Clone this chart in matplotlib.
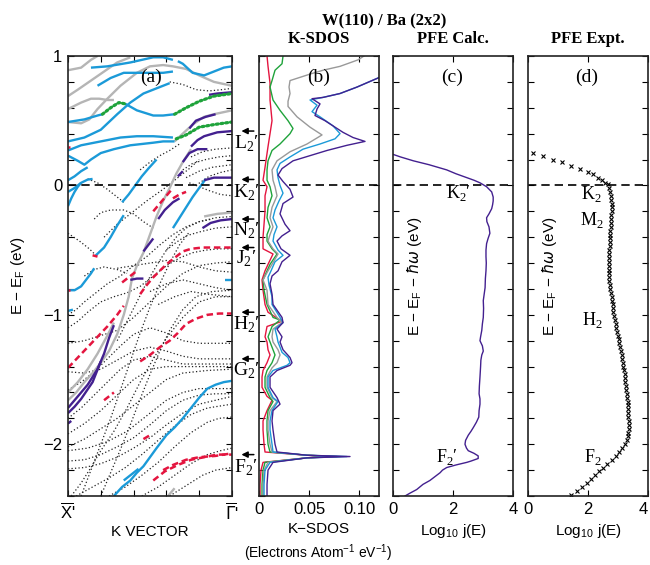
import matplotlib.pyplot as plt
from matplotlib.ticker import MultipleLocator

plt.rcParams['font.family'] = ['Liberation Sans', 'DejaVu Sans']
plt.rcParams['mathtext.fontset'] = 'dejavusans'
SERIF = ['Liberation Serif', 'DejaVu Serif']

BLUE = '#1b9ad8'
PURPLE = '#43208f'
GRAY = '#b5b5b5'
RED = '#e4153f'
GREEN = '#1fa33b'
DOT = '#222222'

# ---- (a) bands along X' -> Gamma' (k = 0 at X', 1 at Gamma'), E in eV ----
blue_bands = [
    [(0.14, 0.91), (0.24, 0.92), (0.38, 0.95), (0.52, 0.99), (0.58, 0.99), (0.64, 0.97)],
    [(0.67, 0.96), (0.70, 0.94), (0.76, 0.87), (0.83, 0.85), (0.89, 0.88), (0.95, 0.91), (1.0, 0.92)],
    [(0.18, 0.77), (0.26, 0.83), (0.34, 0.87), (0.42, 0.87), (0.52, 0.87), (0.58, 0.87), (0.64, 0.88)],
    [(0.0, 0.49), (0.10, 0.51), (0.18, 0.54), (0.21, 0.55)],
    [(0.35, 0.63), (0.42, 0.58), (0.52, 0.54), (0.58, 0.54), (0.65, 0.55)],
    [(0.0, 0.34), (0.10, 0.37), (0.20, 0.43), (0.30, 0.55), (0.38, 0.64), (0.46, 0.71), (0.52, 0.74),
     (0.56, 0.76), (0.62, 0.79)],
    [(0.0, 0.27), (0.08, 0.31), (0.16, 0.33), (0.24, 0.35), (0.32, 0.37), (0.42, 0.38), (0.52, 0.38), (0.64, 0.37)],
    [(0.0, 0.23), (0.06, 0.19), (0.10, 0.16), (0.14, 0.20), (0.20, 0.25), (0.28, 0.28), (0.38, 0.31),
     (0.52, 0.33), (0.58, 0.34), (0.65, 0.34)],
    [(0.0, 0.04), (0.04, 0.07), (0.08, 0.11), (0.12, 0.14)],
    [(0.0, -0.05), (0.04, -0.02), (0.08, 0.02), (0.12, 0.045), (0.15, 0.05)],
    [(0.0, -0.16), (0.02, -0.10), (0.04, -0.05), (0.06, -0.01), (0.08, 0.02)],
    [(0.33, -0.13), (0.37, -0.07), (0.41, 0.0), (0.45, 0.07), (0.49, 0.13), (0.54, 0.20)],
    [(0.17, -0.54), (0.22, -0.48), (0.26, -0.40), (0.30, -0.31), (0.34, -0.23)],
    [(0.0, -0.81), (0.04, -0.81), (0.08, -0.78), (0.11, -0.73), (0.14, -0.68), (0.16, -0.64)],
    [(0.0, -0.97), (0.03, -0.96)],
    [(0.64, -0.33), (0.68, -0.25), (0.72, -0.17), (0.76, -0.09), (0.80, -0.02), (0.84, 0.05)],
    [(0.96, -0.73), (1.0, -0.73)],
    [(0.28, -2.40), (0.33, -2.33), (0.38, -2.28), (0.42, -2.22), (0.46, -2.17), (0.50, -2.10), (0.54, -2.03),
     (0.60, -1.93), (0.65, -1.87), (0.70, -1.80), (0.75, -1.72), (0.80, -1.64), (0.85, -1.57), (0.90, -1.54),
     (0.95, -1.52), (1.0, -1.51)],
    [(0.34, -2.28), (0.38, -2.24), (0.43, -2.19)],
]

gray_bands = [
    [(0.0, 0.89), (0.08, 0.91), (0.14, 0.97), (0.18, 1.0)],
    [(0.0, 0.69), (0.06, 0.74), (0.14, 0.81), (0.22, 0.88), (0.30, 0.95), (0.38, 0.99)],
    [(0.0, 0.59), (0.08, 0.64), (0.14, 0.67), (0.19, 0.67), (0.24, 0.66), (0.28, 0.66)],
    [(0.0, 0.49), (0.08, 0.48), (0.13, 0.51), (0.18, 0.59), (0.24, 0.67), (0.32, 0.77), (0.42, 0.87),
     (0.50, 0.92), (0.58, 0.93), (0.64, 0.92), (0.72, 0.90), (0.80, 0.85), (0.89, 0.80), (1.0, 0.77)],
    [(0.65, 0.34), (0.70, 0.40), (0.76, 0.47), (0.83, 0.53), (0.89, 0.55), (1.0, 0.58)],
    [(0.0, -1.66), (0.05, -1.60), (0.10, -1.52), (0.15, -1.45), (0.20, -1.37), (0.25, -1.28), (0.30, -1.15),
     (0.34, -1.00), (0.37, -0.86), (0.39, -0.72), (0.42, -0.62), (0.46, -0.52), (0.50, -0.38), (0.54, -0.24),
     (0.58, -0.12), (0.62, -0.02), (0.66, 0.09), (0.70, 0.18), (0.75, 0.28)],
    [(0.0, -1.60), (0.06, -1.52), (0.12, -1.42), (0.18, -1.30), (0.24, -1.16), (0.28, -1.06)],
    [(0.61, -2.40), (0.65, -2.34)],
    [(0.83, -0.24), (0.91, -0.22), (1.0, -0.21)],
]

purple_bands = [
    [(0.86, 0.70), (0.91, 0.71), (1.0, 0.72)],
    [(0.74, 0.44), (0.78, 0.50), (0.84, 0.53), (0.90, 0.55)],
    [(0.75, 0.30), (0.79, 0.35), (0.83, 0.38), (0.91, 0.41), (1.0, 0.42)],
    [(0.70, 0.18), (0.74, 0.25), (0.79, 0.28), (0.85, 0.28)],
    [(0.67, 0.07), (0.70, 0.11)],
    [(0.83, 0.04), (0.89, 0.06), (1.0, 0.06)],
    [(0.55, -0.26), (0.59, -0.19), (0.64, -0.13), (0.68, -0.10)],
    [(0.46, -0.51), (0.49, -0.46), (0.52, -0.41)],
    [(0.38, -0.73), (0.42, -0.72), (0.46, -0.72)],
    [(0.82, -0.33), (0.87, -0.29), (0.93, -0.27), (1.0, -0.26)],
    [(0.0, -1.72), (0.06, -1.63), (0.12, -1.54), (0.18, -1.42), (0.22, -1.30), (0.25, -1.18), (0.28, -1.08)],
    [(0.0, -1.76), (0.04, -1.71), (0.08, -1.65), (0.15, -1.52), (0.20, -1.36)],
    [(0.0, -1.84), (0.02, -1.82)],
]

red_dashed = [
    [(0.52, -0.20), (0.56, -0.14), (0.60, -0.08), (0.64, -0.02)],
    [(0.64, -0.10), (0.68, -0.07), (0.72, -0.05)],
    [(0.44, -0.84), (0.48, -0.77), (0.52, -0.71), (0.56, -0.66), (0.60, -0.61), (0.65, -0.56), (0.70, -0.51),
     (0.75, -0.49), (0.82, -0.48), (0.90, -0.48), (1.0, -0.48)],
    [(0.0, -1.41), (0.06, -1.33), (0.12, -1.25), (0.18, -1.17), (0.24, -1.09), (0.30, -1.00), (0.34, -0.93)],
    [(0.33, -0.75), (0.37, -0.71), (0.42, -0.66)],
    [(0.44, -1.36), (0.50, -1.31), (0.56, -1.25), (0.62, -1.20), (0.67, -1.14), (0.72, -1.07), (0.78, -1.03),
     (0.85, -1.00), (0.92, -0.99), (1.0, -0.99)],
    [(0.22, -1.66), (0.25, -1.63), (0.28, -1.60)],
    [(0.46, -1.96), (0.50, -1.93)],
    [(0.52, -2.28), (0.59, -2.21), (0.67, -2.16), (0.75, -2.12), (0.83, -2.10), (0.91, -2.08), (1.0, -2.08)],
    [(0.58, -2.20), (0.64, -2.16), (0.72, -2.12), (0.80, -2.10), (0.90, -2.09), (1.0, -2.07)],
]
red_solid = [
    [(0.15, -0.54), (0.18, -0.55)],
    [(0.0, 0.30), (0.015, 0.30)],
    [(0.0, -0.81), (0.015, -0.81)],
]

green_dotted = [
    [(0.21, 0.55), (0.26, 0.60), (0.31, 0.64), (0.35, 0.63)],
    [(0.65, 0.55), (0.72, 0.60), (0.80, 0.65), (0.89, 0.69), (1.0, 0.71)],
    [(0.66, 0.36), (0.72, 0.39), (0.80, 0.45), (0.89, 0.47), (1.0, 0.49)],
]

black_dotted = [
    [(0.0, 0.98), (0.02, 1.0)],
    [(0.62, 0.80), (0.70, 0.78), (0.78, 0.74), (0.86, 0.73), (0.94, 0.74), (1.0, 0.75)],
    [(0.44, 0.12), (0.50, 0.18), (0.56, 0.23), (0.62, 0.27), (0.68, 0.32)],
    [(0.70, 0.12), (0.76, 0.17), (0.84, 0.20), (0.92, 0.22), (1.0, 0.23)],
    [(0.72, 0.06), (0.80, 0.11), (0.88, 0.14), (1.0, 0.16)],
    [(0.75, 0.22), (0.82, 0.26), (0.90, 0.28), (1.0, 0.29)],
    [(0.78, 0.0), (0.86, 0.07), (0.93, 0.10), (1.0, 0.12)],
    [(0.74, 0.02), (0.80, -0.01), (0.86, -0.04), (0.93, -0.07), (1.0, -0.08)],
    [(0.12, 0.05), (0.18, 0.02), (0.24, -0.03), (0.30, -0.09), (0.34, -0.13)],
    [(0.0, -0.37), (0.07, -0.43), (0.13, -0.49), (0.17, -0.54)],
    [(0.16, -0.26), (0.20, -0.21), (0.26, -0.19), (0.34, -0.19), (0.40, -0.22), (0.46, -0.28), (0.52, -0.33)],
    [(0.22, -0.40), (0.30, -0.30), (0.38, -0.22), (0.48, -0.12), (0.58, -0.03), (0.66, 0.05), (0.74, 0.13), (0.80, 0.20)],
    [(0.10, -0.70), (0.16, -0.65), (0.22, -0.63), (0.30, -0.65), (0.36, -0.68)],
    [(0.0, -1.00), (0.05, -0.96), (0.10, -0.90), (0.16, -0.84), (0.24, -0.76), (0.32, -0.70), (0.40, -0.62),
     (0.48, -0.55), (0.56, -0.46), (0.64, -0.38), (0.72, -0.32), (0.80, -0.28), (0.90, -0.25), (1.0, -0.24)],
    [(0.0, -1.10), (0.06, -1.05), (0.12, -0.98), (0.20, -0.90), (0.28, -0.86), (0.36, -0.83), (0.44, -0.78),
     (0.52, -0.70), (0.60, -0.62), (0.68, -0.56), (0.76, -0.52), (0.84, -0.50), (0.92, -0.49), (1.0, -0.49)],
    [(0.60, -0.50), (0.66, -0.44), (0.72, -0.39), (0.80, -0.36), (0.90, -0.33), (1.0, -0.32)],
    [(0.30, -0.64), (0.40, -0.62), (0.50, -0.60), (0.60, -0.58), (0.70, -0.59), (0.80, -0.63), (0.90, -0.66), (1.0, -0.67)],
    [(0.50, -0.82), (0.60, -0.76), (0.70, -0.73), (0.80, -0.76), (0.90, -0.79), (1.0, -0.81)],
    [(0.55, -0.92), (0.65, -0.86), (0.75, -0.82), (0.85, -0.84), (1.0, -0.86)],
    [(0.30, -1.20), (0.36, -1.05), (0.42, -0.90), (0.48, -0.75), (0.54, -0.62), (0.60, -0.50), (0.66, -0.40),
     (0.72, -0.33), (0.80, -0.28), (0.88, -0.26)],
    [(0.0, -1.22), (0.10, -1.20), (0.20, -1.16), (0.30, -1.12), (0.40, -1.02), (0.50, -0.90), (0.60, -0.78),
     (0.70, -0.68), (0.80, -0.62), (0.90, -0.60), (1.0, -0.59)],
    [(0.0, -1.44), (0.10, -1.45), (0.20, -1.42), (0.30, -1.35), (0.40, -1.28), (0.50, -1.25), (0.60, -1.28),
     (0.70, -1.32), (0.80, -1.34), (0.90, -1.34), (1.0, -1.34)],
    [(0.0, -1.58), (0.08, -1.52), (0.16, -1.44), (0.24, -1.34), (0.32, -1.24), (0.40, -1.15), (0.50, -1.10),
     (0.60, -1.14), (0.70, -1.20), (0.80, -1.22), (0.90, -1.22), (1.0, -1.22)],
    [(0.0, -1.80), (0.08, -1.72), (0.16, -1.62), (0.24, -1.52), (0.32, -1.42), (0.40, -1.35), (0.50, -1.32),
     (0.60, -1.35), (0.70, -1.38), (0.85, -1.38), (1.0, -1.38)],
    [(0.0, -1.92), (0.10, -1.84), (0.20, -1.74), (0.30, -1.62), (0.40, -1.50), (0.50, -1.42), (0.60, -1.40),
     (0.75, -1.40), (1.0, -1.40)],
    [(0.0, -2.02), (0.10, -1.96), (0.20, -1.88), (0.30, -1.80), (0.40, -1.70), (0.50, -1.60), (0.60, -1.50),
     (0.70, -1.45), (0.85, -1.43), (1.0, -1.42)],
    [(0.0, -2.05), (0.12, -2.03), (0.24, -1.98), (0.36, -1.90), (0.48, -1.78), (0.60, -1.66), (0.70, -1.60),
     (0.80, -1.57), (0.90, -1.57), (1.0, -1.57)],
    [(0.0, -2.13), (0.10, -2.12), (0.20, -2.08), (0.30, -2.02), (0.40, -1.95), (0.50, -1.85), (0.60, -1.74),
     (0.70, -1.66), (0.80, -1.62), (0.90, -1.61), (1.0, -1.61)],
    [(0.0, -2.19), (0.10, -2.18), (0.20, -2.15), (0.30, -2.10), (0.40, -2.03), (0.50, -1.95), (0.60, -1.85),
     (0.70, -1.76), (0.80, -1.69), (0.90, -1.66), (1.0, -1.63)],
    [(0.05, -2.40), (0.15, -2.33), (0.25, -2.26), (0.35, -2.18), (0.45, -2.08), (0.55, -1.97), (0.65, -1.86),
     (0.75, -1.77), (0.85, -1.72), (1.0, -1.69)],
    [(0.25, -2.40), (0.35, -2.33), (0.45, -2.24), (0.55, -2.14), (0.65, -2.02), (0.75, -1.91), (0.85, -1.83),
     (0.92, -1.80), (1.0, -1.79)],
    [(0.45, -2.40), (0.55, -2.33), (0.65, -2.24), (0.75, -2.15), (0.85, -2.08), (0.93, -2.05), (1.0, -2.03)],
    [(0.62, -2.40), (0.72, -2.32), (0.82, -2.24), (0.90, -2.20), (1.0, -2.18)],
    [(0.08, -2.40), (0.14, -2.20), (0.20, -2.00), (0.26, -1.80), (0.32, -1.58), (0.38, -1.36), (0.44, -1.14),
     (0.50, -0.94), (0.56, -0.76), (0.62, -0.60), (0.68, -0.46), (0.74, -0.36)],
    [(0.20, -2.40), (0.26, -2.22), (0.32, -2.04), (0.38, -1.85), (0.44, -1.65), (0.50, -1.46), (0.56, -1.28),
     (0.62, -1.12), (0.70, -0.96), (0.78, -0.86), (0.88, -0.82), (1.0, -0.81)],
    [(0.02, -2.40), (0.08, -2.30), (0.14, -2.18), (0.20, -2.05), (0.28, -1.90), (0.36, -1.72), (0.44, -1.52),
     (0.52, -1.34), (0.60, -1.18), (0.70, -1.02), (0.80, -0.90), (0.90, -0.86), (1.0, -0.86)],
]

# ---- (b) K-SDOS curves: (SDOS, E) ----
sdos_red = [(0.008, 1.0), (0.009, 0.92), (0.011, 0.79), (0.011, 0.66), (0.013, 0.50), (0.011, 0.40), (0.009, 0.30),
            (0.006, 0.14), (0.004, 0.04), (0.008, -0.01), (0.006, -0.08), (0.006, -0.20), (0.005, -0.30),
            (0.004, -0.40), (0.004, -0.49), (0.014, -0.53), (0.009, -0.61), (0.006, -0.66), (0.003, -0.73),
            (0.004, -0.81), (0.006, -0.92), (0.009, -0.98), (0.023, -1.05), (0.008, -1.09), (0.006, -1.17),
            (0.008, -1.21), (0.009, -1.27), (0.011, -1.31), (0.008, -1.37), (0.004, -1.43), (0.003, -1.48),
            (0.003, -1.56), (0.008, -1.63), (0.013, -1.66), (0.008, -1.74), (0.004, -1.82), (0.004, -1.89),
            (0.005, -2.0), (0.006, -2.06), (0.048, -2.085), (0.071, -2.095), (0.048, -2.105), (0.004, -2.14),
            (0.002, -2.2), (0.001, -2.31), (0.001, -2.40)]
sdos_green = [(0.024, 1.0), (0.023, 0.94), (0.016, 0.89), (0.013, 0.81), (0.011, 0.76), (0.014, 0.66), (0.021, 0.58),
              (0.029, 0.50), (0.034, 0.44), (0.031, 0.40), (0.021, 0.32), (0.013, 0.27), (0.009, 0.19),
              (0.008, 0.12), (0.008, 0.04), (0.011, -0.01), (0.013, -0.08), (0.009, -0.17), (0.008, -0.25),
              (0.011, -0.32), (0.008, -0.38), (0.008, -0.43), (0.013, -0.49), (0.018, -0.53), (0.011, -0.61),
              (0.008, -0.66), (0.004, -0.73), (0.005, -0.81), (0.008, -0.92), (0.014, -1.02), (0.021, -1.04),
              (0.013, -1.09), (0.009, -1.17), (0.011, -1.21), (0.014, -1.27), (0.016, -1.31), (0.013, -1.37),
              (0.008, -1.43), (0.006, -1.48), (0.006, -1.56), (0.011, -1.64), (0.014, -1.67), (0.009, -1.74),
              (0.008, -1.82), (0.008, -1.89), (0.009, -2.0), (0.011, -2.06), (0.048, -2.085), (0.078, -2.095),
              (0.048, -2.105), (0.006, -2.14), (0.004, -2.2), (0.003, -2.31), (0.003, -2.40)]
sdos_gray = [(0.105, 1.0), (0.099, 0.97), (0.081, 0.92), (0.064, 0.89), (0.051, 0.86), (0.031, 0.81), (0.030, 0.76),
             (0.031, 0.71), (0.029, 0.65), (0.029, 0.61), (0.038, 0.53), (0.051, 0.45), (0.063, 0.39),
             (0.048, 0.32), (0.031, 0.26), (0.018, 0.19), (0.013, 0.12), (0.014, 0.04), (0.016, -0.01),
             (0.018, -0.08), (0.013, -0.17), (0.011, -0.25), (0.014, -0.32), (0.011, -0.38), (0.009, -0.43),
             (0.014, -0.49), (0.019, -0.53), (0.013, -0.61), (0.009, -0.66), (0.004, -0.73), (0.008, -0.81),
             (0.009, -0.92), (0.018, -1.02), (0.023, -1.06), (0.014, -1.11), (0.013, -1.17), (0.014, -1.21),
             (0.019, -1.27), (0.021, -1.31), (0.018, -1.37), (0.013, -1.41), (0.008, -1.48), (0.008, -1.56),
             (0.013, -1.64), (0.018, -1.67), (0.011, -1.74), (0.009, -1.82), (0.009, -1.89), (0.011, -2.0),
             (0.013, -2.06), (0.048, -2.085), (0.081, -2.095), (0.048, -2.105), (0.009, -2.14), (0.005, -2.2),
             (0.004, -2.31), (0.004, -2.40)]
sdos_blue = [(0.125, 0.85), (0.119, 0.83), (0.098, 0.76), (0.081, 0.71), (0.064, 0.68), (0.051, 0.66), (0.058, 0.62),
             (0.053, 0.57), (0.061, 0.53), (0.074, 0.46), (0.081, 0.40), (0.076, 0.36), (0.061, 0.32),
             (0.044, 0.28), (0.031, 0.22), (0.021, 0.17), (0.018, 0.12), (0.019, 0.06), (0.021, 0.0),
             (0.024, -0.06), (0.020, -0.12), (0.016, -0.19), (0.014, -0.25), (0.018, -0.32), (0.015, -0.38),
             (0.014, -0.43), (0.019, -0.50), (0.024, -0.54), (0.016, -0.59), (0.012, -0.66), (0.009, -0.71),
             (0.010, -0.77), (0.013, -0.86), (0.013, -0.92), (0.021, -1.02), (0.024, -1.06), (0.016, -1.11),
             (0.018, -1.17), (0.019, -1.21), (0.023, -1.29), (0.029, -1.33), (0.031, -1.37), (0.028, -1.39),
             (0.014, -1.43), (0.009, -1.48), (0.009, -1.56), (0.014, -1.64), (0.019, -1.67), (0.013, -1.74),
             (0.011, -1.82), (0.011, -1.89), (0.013, -2.0), (0.014, -2.06), (0.048, -2.085), (0.088, -2.095),
             (0.048, -2.105), (0.011, -2.14), (0.006, -2.2), (0.005, -2.31), (0.005, -2.40)]
sdos_purple = [(0.125, 0.85), (0.119, 0.83), (0.098, 0.76), (0.081, 0.71), (0.064, 0.68), (0.053, 0.67),
               (0.061, 0.63), (0.058, 0.59), (0.056, 0.54), (0.066, 0.50), (0.084, 0.41), (0.094, 0.37),
               (0.106, 0.34), (0.088, 0.31), (0.068, 0.27), (0.051, 0.23), (0.034, 0.19), (0.023, 0.13),
               (0.019, 0.08), (0.024, 0.03), (0.031, -0.03), (0.034, -0.09), (0.024, -0.14), (0.021, -0.22),
               (0.026, -0.30), (0.031, -0.35), (0.023, -0.39), (0.018, -0.43), (0.022, -0.49), (0.031, -0.54),
               (0.023, -0.59), (0.019, -0.66), (0.013, -0.70), (0.011, -0.76), (0.013, -0.84), (0.014, -0.92),
               (0.023, -1.02), (0.024, -1.06), (0.018, -1.11), (0.023, -1.17), (0.021, -1.21), (0.024, -1.27),
               (0.031, -1.33), (0.033, -1.37), (0.031, -1.39), (0.018, -1.43), (0.011, -1.48), (0.011, -1.56),
               (0.018, -1.64), (0.021, -1.69), (0.014, -1.74), (0.013, -1.82), (0.014, -1.89), (0.016, -2.0),
               (0.018, -2.06), (0.048, -2.085), (0.091, -2.095), (0.048, -2.105), (0.014, -2.14), (0.009, -2.2),
               (0.008, -2.31), (0.008, -2.40)]

# ---- (c) calculated photofield emission: (log10 j, E) ----
pfe_calc = [(0.0, 0.24), (0.25, 0.22), (0.68, 0.19), (1.2, 0.16), (1.79, 0.12), (2.1, 0.09), (2.46, 0.06),
            (2.7, 0.04), (2.9, 0.02), (3.12, -0.01), (3.29, -0.05), (3.34, -0.09), (3.34, -0.12), (3.32, -0.15),
            (3.29, -0.18), (3.2, -0.22), (3.12, -0.25), (3.13, -0.28), (3.2, -0.32), (3.23, -0.37), (3.17, -0.41),
            (3.12, -0.45), (3.1, -0.5), (3.1, -0.55), (3.11, -0.6), (3.1, -0.66), (3.08, -0.72), (3.07, -0.79),
            (3.04, -0.84), (3.01, -0.89), (3.02, -0.95), (3.01, -1.02), (2.98, -1.07), (2.96, -1.12),
            (2.92, -1.17), (2.9, -1.2), (2.98, -1.24), (3.01, -1.28), (2.96, -1.31), (2.93, -1.35), (2.92, -1.4),
            (2.9, -1.48), (2.88, -1.55), (2.87, -1.61), (2.9, -1.65), (2.9, -1.69), (2.87, -1.74), (2.86, -1.79),
            (2.78, -1.83), (2.68, -1.87), (2.6, -1.9), (2.51, -1.93), (2.42, -1.97), (2.4, -2.0), (2.45, -2.03),
            (2.51, -2.05), (2.7, -2.07), (2.84, -2.09), (2.84, -2.11), (2.6, -2.13), (2.46, -2.14), (2.1, -2.16),
            (1.79, -2.18), (1.65, -2.2), (1.57, -2.22), (1.4, -2.25), (1.23, -2.28), (1.0, -2.31), (0.79, -2.35),
            (0.55, -2.38), (0.4, -2.40)]

# ---- (d) measured photofield emission ----
expt_E = [0.25, 0.23, 0.20, 0.18, 0.15, 0.13, 0.10, 0.09, 0.06, 0.04, 0.02, 0.01,
          -0.02, -0.05, -0.08, -0.11, -0.14, -0.17, -0.20, -0.23, -0.26, -0.29,
          -0.32, -0.35, -0.38, -0.41, -0.44, -0.47, -0.50, -0.53, -0.56, -0.59,
          -0.62, -0.65, -0.68, -0.71, -0.74, -0.77, -0.80, -0.83, -0.86, -0.89,
          -0.92, -0.95, -0.98, -1.01, -1.04, -1.07, -1.10, -1.13, -1.16, -1.19,
          -1.22, -1.25, -1.28, -1.31, -1.34, -1.37, -1.40, -1.43, -1.46, -1.49,
          -1.52, -1.55, -1.58, -1.61, -1.64, -1.67, -1.70, -1.73, -1.76, -1.79,
          -1.82, -1.85, -1.88, -1.91, -1.94, -1.97, -2.00, -2.03, -2.06, -2.09,
          -2.12, -2.15, -2.18, -2.21, -2.24, -2.27, -2.30, -2.33, -2.36, -2.39]
expt_logj = [0.18, 0.49, 0.82, 1.13, 1.44, 1.73, 2.00, 2.18, 2.33, 2.46, 2.57, 2.66,
             2.71, 2.75, 2.77, 2.78, 2.79, 2.79, 2.79, 2.78, 2.78, 2.77,
             2.76, 2.75, 2.74, 2.73, 2.72, 2.72, 2.71, 2.71, 2.70, 2.70,
             2.69, 2.69, 2.69, 2.70, 2.71, 2.73, 2.75, 2.77, 2.79, 2.80,
             2.82, 2.83, 2.85, 2.87, 2.89, 2.92, 2.94, 2.97, 3.00, 3.02,
             3.05, 3.07, 3.09, 3.12, 3.14, 3.16, 3.18, 3.20, 3.22, 3.24,
             3.25, 3.27, 3.28, 3.30, 3.31, 3.32, 3.33, 3.34, 3.35, 3.35,
             3.36, 3.36, 3.36, 3.35, 3.33, 3.29, 3.24, 3.15, 3.05, 2.92,
             2.79, 2.62, 2.49, 2.36, 2.22, 2.09, 1.96, 1.80, 1.62, 1.45]

# surface-state markers between panels (a) and (b): name, arrow energy, label energy
state_names = ['L', 'K', 'N', 'J', 'H', 'G', 'F']
state_arrow_E = [0.42, 0.046, -0.26, -0.48, -0.98, -1.34, -2.08]
state_label_E = [0.32, -0.06, -0.35, -0.57, -1.08, -1.43, -2.18]

calc_labels = [("K$_{\\mathregular{2}}$′", 2.2, -0.06), ("F$_{\\mathregular{2}}$′", 1.8, -2.10)]
expt_labels = [("K$_{\\mathregular{2}}$", 2.1, -0.07), ("M$_{\\mathregular{2}}$", 2.13, -0.27),
               ("H$_{\\mathregular{2}}$", 2.13, -1.04), ("F$_{\\mathregular{2}}$", 2.17, -2.10)]


def draw(ax, bands, **kw):
    for b in bands:
        ks, es = zip(*b)
        ax.plot(ks, es, **kw)


fig = plt.figure(figsize=(6.5, 5.65), dpi=100)
ax_a = fig.add_axes([0.1046, 0.1221, 0.2523, 0.7788])
ax_b = fig.add_axes([0.3985, 0.1221, 0.1846, 0.7788])
ax_c = fig.add_axes([0.6046, 0.1221, 0.1846, 0.7788])
ax_d = fig.add_axes([0.8123, 0.1221, 0.1846, 0.7788])

# (a) band structure
draw(ax_a, black_dotted, color=DOT, lw=0.9, ls=(0, (1, 1.8)))
draw(ax_a, gray_bands, color=GRAY, lw=1.7, solid_capstyle='butt')
draw(ax_a, blue_bands, color=BLUE, lw=1.7, solid_capstyle='butt')
draw(ax_a, purple_bands, color=PURPLE, lw=1.7, solid_capstyle='butt')
draw(ax_a, red_dashed, color=RED, lw=1.8, ls=(0, (2.6, 1.5)))
draw(ax_a, red_solid, color=RED, lw=1.8, solid_capstyle='butt')
draw(ax_a, green_dotted, color=GREEN, lw=2.3, ls=(0, (0.6, 0.9)), dash_capstyle='round')
ax_a.axhline(0, color='k', lw=1.2, ls=(0, (5, 3)))
ax_a.set_xlim(0, 1)
ax_a.set_xticks([0, 0.2, 0.4, 0.6, 0.8, 1.0])
ax_a.set_xticklabels(["$\\overline{\\mathregular{X}}$'", '', '', '', '', "$\\overline{\\Gamma}$'"])
ax_a.set_yticks([-2, -1, 0, 1])
ax_a.text(0.506, 0.834, '(a)', family=SERIF, fontsize=14, ha='center', va='center')

# (b) K-SDOS
for curve, col in [(sdos_red, RED), (sdos_green, GREEN), (sdos_gray, '#999999'),
                   (sdos_blue, BLUE), (sdos_purple, PURPLE)]:
    s, e = zip(*curve)
    ax_b.plot(s, e, color=col, lw=1.0)
ax_b.hlines(0, 0.03, 0.12, color='k', lw=1.2, ls=(0, (5, 3)))
ax_b.set_xlim(0, 0.12)
ax_b.set_xticks([0, 0.05, 0.10])
ax_b.set_xticklabels(['0', '0.05', '0.10'])
ax_b.text(0.060, 0.834, '(b)', family=SERIF, fontsize=14, ha='center', va='center')

for name, ea, el in zip(state_names, state_arrow_E, state_label_E):
    ax_b.annotate('', xy=(-0.17, ea), xytext=(-0.02, ea),
                  xycoords=('axes fraction', 'data'), textcoords=('axes fraction', 'data'),
                  arrowprops=dict(arrowstyle='-|>', color='k', lw=1.1, mutation_scale=9),
                  annotation_clip=False)
    ax_b.text(-0.108, el, name + "$_{\\mathregular{2}}$′", transform=ax_b.get_yaxis_transform(),
              family=SERIF, fontsize=14, ha='center', va='center', clip_on=False)

# (c) calculated PFE
x, e = zip(*pfe_calc)
ax_c.plot(x, e, color=PURPLE, lw=1.0)
ax_c.axhline(0, color='k', lw=1.2, ls=(0, (5, 3)))
ax_c.text(1.97, 0.834, '(c)', family=SERIF, fontsize=14, ha='center', va='center')
for t, xx, yy in calc_labels:
    ax_c.text(xx, yy, t, family=SERIF, fontsize=13, ha='center', va='center')

# (d) measured PFE
ax_d.plot(expt_logj, expt_E, 'x', color='k', ms=3.2, mew=0.8)
ax_d.axhline(0, color='k', lw=1.2, ls=(0, (5, 3)))
ax_d.text(1.97, 0.834, '(d)', family=SERIF, fontsize=14, ha='center', va='center')
for t, xx, yy in expt_labels:
    ax_d.text(xx, yy, t, family=SERIF, fontsize=13, ha='center', va='center')

for ax in (ax_c, ax_d):
    ax.set_xlim(0, 4)
    ax.set_xticks([0, 2, 4])
    ax.text(0.73, -0.70, 'E − E$_{\\mathregular{F}}$ − $\\hbar\\omega$ (eV)', rotation=90,
            fontsize=11, ha='center', va='center')
    ax.set_xlabel('Log$_{\\mathregular{10}}$ j(E)', fontsize=11, labelpad=4)

for ax in (ax_a, ax_b, ax_c, ax_d):
    ax.set_ylim(-2.4, 1.0)
    ax.yaxis.set_minor_locator(MultipleLocator(0.2))
    ax.tick_params(which='both', direction='in', top=True, right=True, length=4, width=0.8,
                   labelsize=12, pad=4)
    for sp in ax.spines.values():
        sp.set_linewidth(1.2)
        sp.set_color('#222222')
for ax in (ax_b, ax_c, ax_d):
    ax.set_yticks([])
    ax.yaxis.set_major_locator(MultipleLocator(0.2))
    ax.tick_params(labelleft=False)
# the last tick label of (d) sits on the figure edge
ax_d.get_xticklabels()[-1].set_horizontalalignment('right')

ax_a.set_xlabel('K VECTOR', fontsize=11, labelpad=2)
ax_b.set_xlabel('K\u2212SDOS', fontsize=11, labelpad=4)
fig.text(0.028, 0.513, 'E − E$_{\\mathregular{F}}$ (eV)', rotation=90, fontsize=11, ha='center', va='center')
fig.text(0.49, 0.021, '(Electrons Atom$^{\\mathregular{-1}}$ eV$^{\\mathregular{-1}}$)', fontsize=10,
         ha='center', va='center')

fig.text(0.591, 0.963, 'W(110) / Ba (2x2)', family=SERIF, weight='bold', fontsize=12, ha='center', va='center')
fig.text(0.491, 0.931, 'K-SDOS', family=SERIF, weight='bold', fontsize=12, ha='center', va='center')
fig.text(0.697, 0.931, 'PFE Calc.', family=SERIF, weight='bold', fontsize=12, ha='center', va='center')
fig.text(0.905, 0.931, 'PFE Expt.', family=SERIF, weight='bold', fontsize=12, ha='center', va='center')

fig.savefig('out.png', dpi=100)
